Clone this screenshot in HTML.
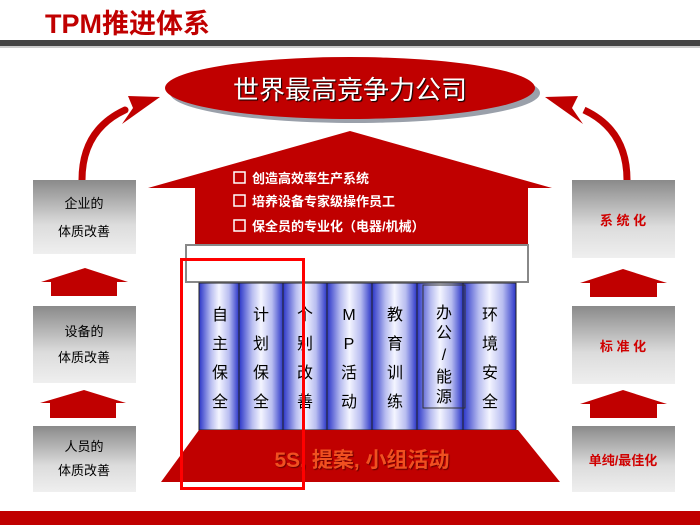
<!DOCTYPE html>
<html><head><meta charset="utf-8"><style>
body{margin:0;background:#fff;}
svg{display:block;font-family:"Liberation Sans","Noto Sans CJK SC",sans-serif;}
</style></head><body>
<svg width="700" height="525" viewBox="0 0 700 525" xmlns="http://www.w3.org/2000/svg">
<defs>
<linearGradient id="box" x1="0" y1="0" x2="0" y2="1"><stop offset="0" stop-color="#8a8a8a"/><stop offset="0.6" stop-color="#dcdcdc"/><stop offset="1" stop-color="#efefef"/></linearGradient>
<linearGradient id="col" x1="0" y1="0" x2="1" y2="0"><stop offset="0" stop-color="#2a35c8"/><stop offset="0.3" stop-color="#b8bdf0"/><stop offset="0.5" stop-color="#f4f5ff"/><stop offset="0.75" stop-color="#b8bdf0"/><stop offset="1" stop-color="#2a35c8"/></linearGradient>
</defs>
<text x="45" y="33" font-size="27" font-weight="bold" fill="#c00000">TPM推进体系</text>
<rect x="0" y="40" width="700" height="6" fill="#444"/>
<rect x="0" y="46" width="700" height="2" fill="#ccc"/>
<ellipse cx="355" cy="93" rx="185" ry="30" fill="#9aa0aa"/>
<ellipse cx="350" cy="88" rx="185" ry="31" fill="#c00000"/>
<text x="350" y="99" font-size="26" fill="#fff" text-anchor="middle" style="text-shadow:1px 1px 1px #000">世界最高竞争力公司</text>
<path d="M82,180 Q82,130 125,110" stroke="#c00000" stroke-width="7" fill="none" stroke-linecap="round"/>
<polygon points="160,97 128,96 133,108 122,124" fill="#c00000"/>
<path d="M627,180 Q627,130 584,110" stroke="#c00000" stroke-width="7" fill="none"/>
<polygon points="545,97 578,96 572,108 583,124" fill="#c00000"/>
<polygon points="350,131 148,188 552,188" fill="#c00000"/>
<rect x="195" y="186" width="333" height="62" fill="#c00000"/>
<g font-size="13" font-weight="bold" fill="#fff">
<rect x="234" y="172" width="11" height="11" fill="none" stroke="#fff" stroke-width="1.5"/>
<text x="252" y="183">创造高效率生产系统</text>
<rect x="234" y="195" width="11" height="11" fill="none" stroke="#fff" stroke-width="1.5"/>
<text x="252" y="206">培养设备专家级操作员工</text>
<rect x="234" y="220" width="11" height="11" fill="none" stroke="#fff" stroke-width="1.5"/>
<text x="252" y="231">保全员的专业化（电器/机械）</text>
</g>
<rect x="186" y="245" width="342" height="37" fill="#fff" stroke="#888" stroke-width="2"/>
<g stroke="#222" stroke-width="1">
<rect x="199" y="283" width="40" height="147" fill="url(#col)"/>
<rect x="239" y="283" width="44" height="147" fill="url(#col)"/>
<rect x="283" y="283" width="44" height="147" fill="url(#col)"/>
<rect x="327" y="283" width="45" height="147" fill="url(#col)"/>
<rect x="372" y="283" width="45" height="147" fill="url(#col)"/>
<rect x="417" y="283" width="46" height="147" fill="url(#col)"/>
<rect x="463" y="283" width="53" height="147" fill="url(#col)"/>
</g>
<rect x="423" y="285" width="42" height="123" fill="none" stroke="#333" stroke-width="1"/>
<g font-size="16" fill="#000" text-anchor="middle">
<text x="220" y="320">自</text><text x="220" y="349">主</text><text x="220" y="378">保</text><text x="220" y="407">全</text>
<text x="261" y="320">计</text><text x="261" y="349">划</text><text x="261" y="378">保</text><text x="261" y="407">全</text>
<text x="305" y="320">个</text><text x="305" y="349">别</text><text x="305" y="378">改</text><text x="305" y="407">善</text>
<text x="349" y="320">M</text><text x="349" y="349">P</text><text x="349" y="378">活</text><text x="349" y="407">动</text>
<text x="395" y="320">教</text><text x="395" y="349">育</text><text x="395" y="378">训</text><text x="395" y="407">练</text>
<text x="444" y="318">办</text><text x="444" y="338">公</text><text x="444" y="360">/</text><text x="444" y="382">能</text><text x="444" y="402">源</text>
<text x="490" y="320">环</text><text x="490" y="349">境</text><text x="490" y="378">安</text><text x="490" y="407">全</text>
</g>
<polygon points="199,430 518,430 560,482 161,482" fill="#c00000"/>
<text x="362" y="467" font-size="21" font-weight="bold" fill="#f05020" text-anchor="middle" style="text-shadow:1px 1px 1px #600">5S, 提案, 小组活动</text>
<rect x="181.5" y="259.5" width="122" height="229" fill="none" stroke="#ff0000" stroke-width="3"/>
<rect x="33" y="180" width="103" height="74" fill="url(#box)"/>
<rect x="33" y="306" width="103" height="77" fill="url(#box)"/>
<rect x="33" y="426" width="103" height="66" fill="url(#box)"/>
<g font-size="13" fill="#000" text-anchor="middle">
<text x="84" y="208">企业的</text><text x="84" y="236">体质改善</text>
<text x="84" y="336">设备的</text><text x="84" y="362">体质改善</text>
<text x="84" y="451">人员的</text><text x="84" y="475">体质改善</text>
</g>
<polygon points="85,268 128,282 117,282 117,296 51,296 51,282 41,282" fill="#c00000"/>
<polygon points="84,390 126,403 116,403 116,418 50,418 50,403 40,403" fill="#c00000"/>
<rect x="572" y="180" width="103" height="78" fill="url(#box)"/>
<rect x="572" y="306" width="103" height="78" fill="url(#box)"/>
<rect x="572" y="426" width="103" height="66" fill="url(#box)"/>
<g font-size="13" fill="#d00000" text-anchor="middle" font-weight="bold">
<text x="623" y="225">系 统 化</text>
<text x="623" y="351">标 准 化</text>
<text x="623" y="465">单纯/最佳化</text>
</g>
<polygon points="623,269 667,283 657,283 657,297 590,297 590,283 580,283" fill="#c00000"/>
<polygon points="623,390 667,404 657,404 657,418 590,418 590,404 580,404" fill="#c00000"/>
<rect x="0" y="511" width="700" height="14" fill="#c00000"/>
</svg>
</body></html>
